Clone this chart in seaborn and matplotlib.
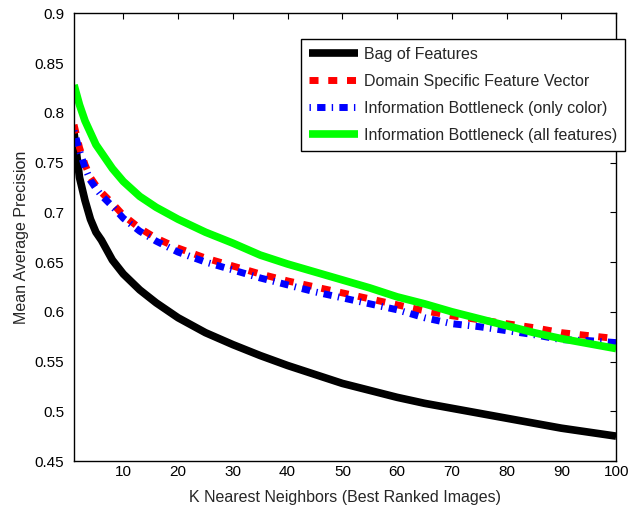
import pandas as pd
import seaborn as sns
import matplotlib.pyplot as plt

# values
k = [1, 2, 3, 4, 5, 6, 8, 10, 13, 16, 20, 25, 30, 35, 40, 45, 50, 55, 60, 65, 70, 75, 80, 85, 90, 95, 100]
bag_of_features = [0.780, 0.735, 0.712, 0.693, 0.680, 0.672, 0.652, 0.638, 0.622, 0.609, 0.594, 0.579, 0.567,
                   0.556, 0.546, 0.537, 0.528, 0.521, 0.514, 0.508, 0.503, 0.498, 0.493, 0.488, 0.483, 0.479, 0.475]
domain_specific = [0.788, 0.765, 0.748, 0.735, 0.727, 0.720, 0.709, 0.697, 0.684, 0.674, 0.664, 0.654, 0.646,
                   0.638, 0.631, 0.625, 0.619, 0.613, 0.607, 0.601, 0.596, 0.592, 0.588, 0.584, 0.579, 0.576, 0.573]
ib_color = [0.782, 0.762, 0.745, 0.732, 0.724, 0.717, 0.706, 0.694, 0.681, 0.671, 0.660, 0.650, 0.642,
            0.634, 0.627, 0.620, 0.614, 0.608, 0.602, 0.594, 0.588, 0.585, 0.581, 0.577, 0.572, 0.571, 0.569]
ib_all = [0.828, 0.808, 0.792, 0.780, 0.768, 0.760, 0.744, 0.731, 0.716, 0.705, 0.693, 0.680, 0.669,
          0.657, 0.648, 0.640, 0.632, 0.624, 0.615, 0.608, 0.600, 0.593, 0.586, 0.579, 0.573, 0.568, 0.563]

labels = ['Bag of Features', 'Domain Specific Feature Vector',
          'Information Bottleneck (only color)', 'Information Bottleneck (all features)']
series = [bag_of_features, domain_specific, ib_color, ib_all]
colors = ['black', '#ff0000', '#0000ff', '#00ff00']
styles = ['-', (0, (1.3, 1.4)), (0, (0.2, 0.9, 1.2, 0.9)), '-']
widths = [5.5, 5, 5, 5.5]

sns.set_theme(style='white')
plt.rcParams['font.family'] = ['Liberation Sans', 'DejaVu Sans']

fig = plt.figure(figsize=(6.3, 5.12), dpi=100)
ax = fig.add_axes([0.1175, 0.0996, 0.8605, 0.8744])

for vals, lab, c, ls, lw in zip(series, labels, colors, styles, widths):
    df = pd.DataFrame({'K': k, 'MAP': vals})
    sns.lineplot(data=df, x='K', y='MAP', ax=ax, color=c, linestyle=ls, linewidth=lw,
                 label=lab, solid_capstyle='butt', dash_capstyle='butt')

ax.set_xlim(1, 100)
ax.set_ylim(0.45, 0.9)
xt = [10, 20, 30, 40, 50, 60, 70, 80, 90, 100]
ax.set_xticks(xt)
ax.set_xticklabels([str(t) for t in xt])
yt = [0.45, 0.5, 0.55, 0.6, 0.65, 0.7, 0.75, 0.8, 0.85, 0.9]
ax.set_yticks(yt)
ax.set_yticklabels(['%g' % t for t in yt])
ax.tick_params(direction='in', length=4, width=0.8, top=True, right=True,
               labelsize=11, colors='black')
ax.tick_params(axis='y', pad=7)
ax.tick_params(axis='x', pad=3)
for s in ax.spines.values():
    s.set_color('black')
    s.set_linewidth(1.0)

ax.set_xlabel('K Nearest Neighbors (Best Ranked Images)', fontsize=11.5, labelpad=8)
ax.set_ylabel('Mean Average Precision', fontsize=11.5, labelpad=4)

leg = ax.legend(loc='upper right', bbox_to_anchor=(625 / 630, 1 - 39 / 512), bbox_transform=fig.transFigure,
                borderaxespad=0, fontsize=11.5, fancybox=False, framealpha=1, handlelength=3.05,
                handletextpad=0.35, labelspacing=0.75, borderpad=0.5)
leg.get_frame().set_edgecolor('black')
leg.get_frame().set_linewidth(1.0)

fig.savefig('out.png', dpi=100)
